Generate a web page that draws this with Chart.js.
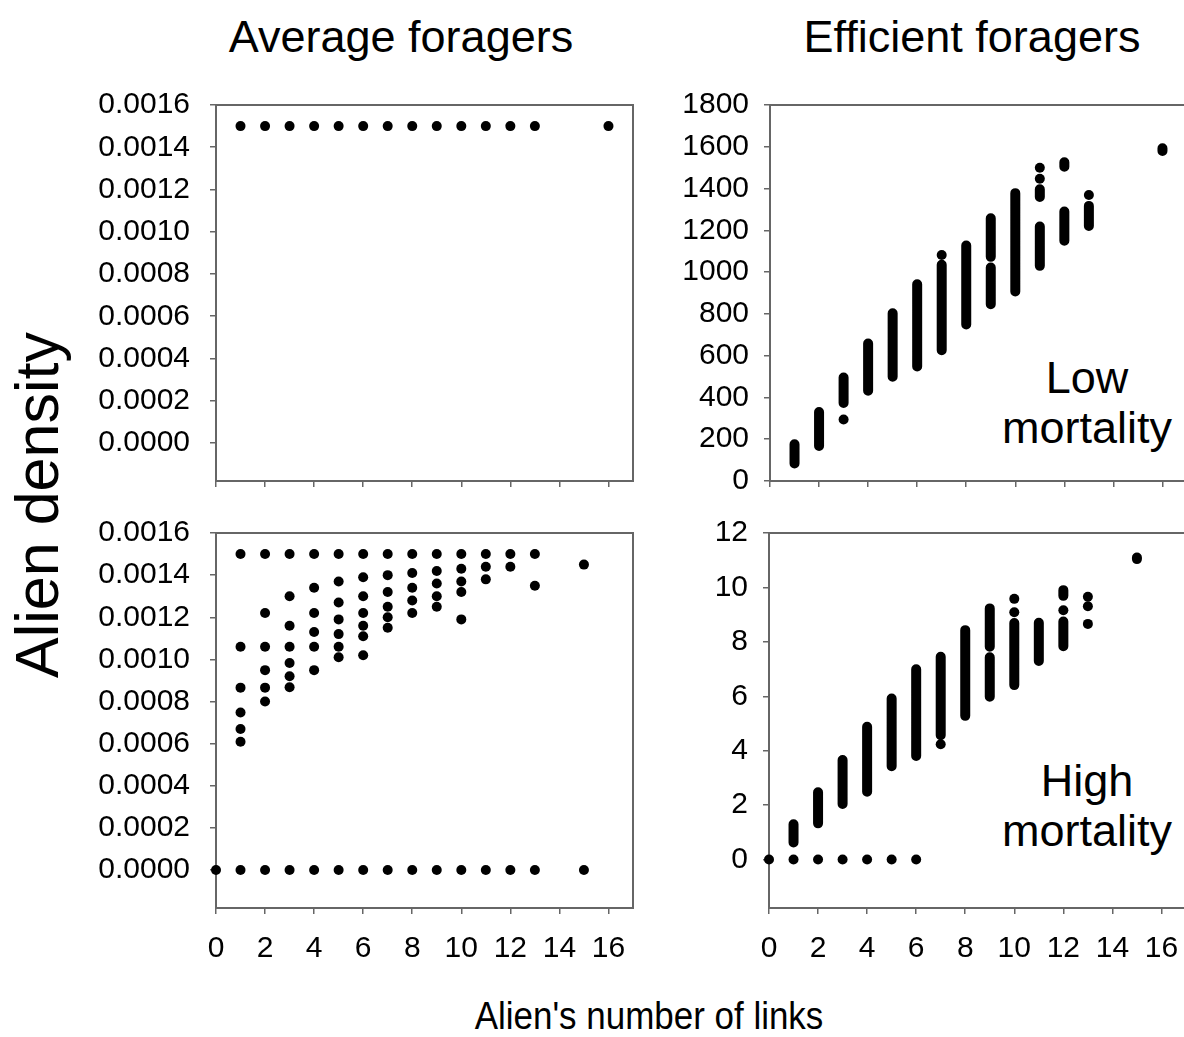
<!DOCTYPE html>
<html>
<head>
<meta charset="utf-8">
<script src="https://cdn.jsdelivr.net/npm/chart.js@4.4.1/dist/chart.umd.min.js"></script>
<style>
  html, body { margin: 0; padding: 0; background: #fff; overflow: hidden; width: 1184px; height: 1037px; }
  body { position: relative; font-family: "Liberation Sans", Arial, sans-serif; color: #000; }
  canvas { position: absolute; }
  .lbl { position: absolute; text-align: center; white-space: nowrap; }
</style>
</head>
<body>
<div class="lbl" style="left:101px; top:14px; width:600px; font-size:45px; line-height:45px;">Average foragers</div>
<div class="lbl" style="left:672px; top:14px; width:600px; font-size:45px; line-height:45px;">Efficient foragers</div>
<div class="lbl" style="left:-163px; top:475px; width:400px; height:60px; font-size:61px; line-height:60px; transform:rotate(-90deg);">Alien density</div>
<div class="lbl" style="left:349px; top:997px; width:600px; font-size:38px; line-height:38px; transform:scaleX(0.92);">Alien's number of links</div>
<div class="lbl" style="left:937px; top:353px; width:300px; font-size:45px; line-height:50px;">Low<br>mortality</div>
<div class="lbl" style="left:937px; top:756px; width:300px; font-size:45px; line-height:50px;">High<br>mortality</div>

<canvas id="avgLow"></canvas>
<canvas id="effLow"></canvas>
<canvas id="avgHigh"></canvas>
<canvas id="effHigh"></canvas>

<script>
// shared x axis: alien's number of links
const linkTicks = [0, 2, 4, 6, 8, 10, 12, 14, 16];

// tick labels
const avgTicks = [0, 0.0002, 0.0004, 0.0006, 0.0008, 0.0010, 0.0012, 0.0014, 0.0016];
const effLowTicks = [0, 200, 400, 600, 800, 1000, 1200, 1400, 1600, 1800];
const effHighTicks = [0, 2, 4, 6, 8, 10, 12];

// Average foragers, low mortality (all at the same density)
const avgLowX = [1, 2, 3, 4, 5, 6, 7, 8, 9, 10, 11, 12, 13, 16];
const avgLowY = [0.0015, 0.0015, 0.0015, 0.0015, 0.0015, 0.0015, 0.0015,
                 0.0015, 0.0015, 0.0015, 0.0015, 0.0015, 0.0015, 0.0015];

// Average foragers, high mortality
const avgHighX = [
  0,
  1, 1, 1, 1, 1, 1, 1,
  2, 2, 2, 2, 2, 2, 2,
  3, 3, 3, 3, 3, 3, 3, 3,
  4, 4, 4, 4, 4, 4, 4,
  5, 5, 5, 5, 5, 5, 5, 5,
  6, 6, 6, 6, 6, 6, 6, 6,
  7, 7, 7, 7, 7, 7, 7,
  8, 8, 8, 8, 8, 8,
  9, 9, 9, 9, 9, 9,
  10, 10, 10, 10, 10, 10,
  11, 11, 11, 11,
  12, 12, 12,
  13, 13, 13,
  15, 15
];
const avgHighY = [
  0,
  0.0015, 0.00106, 0.000866, 0.000748, 0.00067, 0.000609, 0,
  0.0015, 0.00122, 0.00106, 0.000949, 0.000866, 0.0008, 0,
  0.0015, 0.0013, 0.00116, 0.00106, 0.000983, 0.00092, 0.000868, 0,
  0.0015, 0.00134, 0.00122, 0.00113, 0.00106, 0.000949, 0,
  0.0015, 0.00137, 0.00127, 0.00119, 0.00112, 0.00106, 0.00101, 0,
  0.0015, 0.00139, 0.0013, 0.00122, 0.00116, 0.00111, 0.00102, 0,
  0.0015, 0.0014, 0.00132, 0.00125, 0.0012, 0.00115, 0,
  0.0015, 0.00141, 0.00134, 0.00128, 0.00122, 0,
  0.0015, 0.00142, 0.00136, 0.0013, 0.00125, 0,
  0.0015, 0.00143, 0.00137, 0.00132, 0.00119, 0,
  0.0015, 0.00144, 0.00138, 0,
  0.0015, 0.00144, 0,
  0.0015, 0.00135, 0,
  0.00145, 0
];

// Efficient foragers, low mortality: dense runs of points (low..high) plus lone points
const effLowRunX  = [1, 2, 3, 4, 5, 6, 7, 8, 9, 9, 10, 11, 11, 12, 12, 13, 16];
const effLowRunLo = [84, 168, 373, 432, 499, 548, 626, 749, 846, 1073, 907, 1030, 1360, 1150, 1504, 1221, 1580];
const effLowRunHi = [176, 330, 495, 658, 803, 942, 1035, 1127, 1022, 1258, 1378, 1218, 1397, 1290, 1526, 1317, 1593];
const effLowDotX = [3, 7, 11, 11, 13];
const effLowDotY = [294, 1082, 1447, 1500, 1369];

// Efficient foragers, high mortality
const effHighRunX  = [1, 2, 3, 4, 5, 6, 7, 8, 9, 9, 10, 11, 12, 12, 15];
const effHighRunLo = [0.63, 1.33, 2.04, 2.49, 3.43, 3.81, 4.57, 5.28, 5.98, 7.82, 6.41, 7.30, 7.84, 9.69, 11.04];
const effHighRunHi = [1.30, 2.47, 3.66, 4.88, 5.92, 6.99, 7.45, 8.43, 7.43, 9.23, 8.69, 8.70, 8.75, 9.90, 11.10];
const effHighDotX = [0, 1, 2, 3, 4, 5, 6, 7, 10, 10, 12, 13, 13, 13];
const effHighDotY = [0, 0, 0, 0, 0, 0, 0, 4.24, 9.58, 9.09, 9.16, 9.66, 9.31, 8.66];

const FONT = '"Liberation Sans", Arial, sans-serif';
const GREY = '#666';
const DOT_R = 5;

// full box around the plot area
const frame = {
  id: 'frame',
  beforeDatasetsDraw(chart) {
    const { ctx, chartArea: a } = chart;
    ctx.save();
    ctx.strokeStyle = GREY;
    ctx.lineWidth = 2;
    ctx.strokeRect(a.left, a.top, a.right - a.left, a.bottom - a.top);
    ctx.restore();
  }
};

function dots(xs, ys) {
  return {
    data: xs.map((x, i) => ({ x, y: ys[i] })),
    pointRadius: DOT_R, pointHoverRadius: DOT_R,
    pointBackgroundColor: '#000', pointBorderWidth: 0,
    clip: false
  };
}

function runs(xs, lo, hi) {
  const data = [];
  xs.forEach((x, i) => data.push({ x, y: lo[i] }, { x, y: hi[i] }, { x, y: null }));
  return {
    data, showLine: true, spanGaps: false,
    pointRadius: 0, pointHoverRadius: 0,
    borderColor: '#000', borderWidth: DOT_R * 2, borderCapStyle: 'round',
    clip: false
  };
}

// box = canvas placement, area = wanted plot rectangle (page pixels)
function panel(id, box, area, cfg) {
  const canvas = document.getElementById(id);
  canvas.width = box.w;
  canvas.height = box.h;
  canvas.style.left = box.x + 'px';
  canvas.style.top = box.y + 'px';

  const grid = { display: true, drawOnChartArea: false, drawTicks: true, tickLength: 6, color: GREY, lineWidth: 1.5 };

  new Chart(canvas, {
    type: 'scatter',
    data: { datasets: cfg.datasets },
    options: {
      responsive: false,
      animation: false,
      devicePixelRatio: 1,
      events: [],
      layout: { padding: { top: area.top - box.y, right: box.x + box.w - area.right, left: 0, bottom: 0 } },
      plugins: { legend: { display: false }, tooltip: { enabled: false } },
      scales: {
        x: {
          type: 'linear', min: 0, max: 17,
          afterBuildTicks: s => { s.ticks = linkTicks.map(v => ({ value: v })); },
          afterFit: s => { s.height = box.y + box.h - area.bottom; },
          grid, border: { display: false },
          ticks: { display: cfg.xLabels, padding: 17, color: '#000', font: { family: FONT, size: 30 } }
        },
        y: {
          type: 'linear', min: cfg.yMin, max: cfg.yMax,
          afterBuildTicks: s => { s.ticks = cfg.yTicks.map(v => ({ value: v })); },
          afterFit: s => { s.width = area.left - box.x; },
          grid, border: { display: false },
          ticks: {
            padding: cfg.yPad, color: '#000', font: { family: FONT, size: 30 },
            callback: cfg.fmt
          }
        }
      }
    },
    plugins: [frame]
  });
}

const fmtAvg = v => v.toFixed(4);
const fmtInt = v => String(v);

panel('avgLow', { x: 0, y: 60, w: 660, h: 461 }, { left: 216, top: 105, right: 633, bottom: 481 }, {
  datasets: [dots(avgLowX, avgLowY)],
  yMin: -0.00018, yMax: 0.0016, yTicks: avgTicks, fmt: fmtAvg, yPad: 20, xLabels: false
});

panel('avgHigh', { x: 0, y: 490, w: 660, h: 510 }, { left: 216, top: 533, right: 633, bottom: 908 }, {
  datasets: [dots(avgHighX, avgHighY)],
  yMin: -0.00018, yMax: 0.0016, yTicks: avgTicks, fmt: fmtAvg, yPad: 20, xLabels: true
});

panel('effLow', { x: 660, y: 60, w: 540, h: 461 }, { left: 770, top: 105, right: 1187, bottom: 481 }, {
  datasets: [runs(effLowRunX, effLowRunLo, effLowRunHi), dots(effLowDotX, effLowDotY)],
  yMin: 0, yMax: 1800, yTicks: effLowTicks, fmt: fmtInt, yPad: 15, xLabels: false
});

panel('effHigh', { x: 660, y: 490, w: 540, h: 510 }, { left: 769, top: 533, right: 1186, bottom: 908 }, {
  datasets: [runs(effHighRunX, effHighRunLo, effHighRunHi), dots(effHighDotX, effHighDotY)],
  yMin: -1.78, yMax: 12, yTicks: effHighTicks, fmt: fmtInt, yPad: 15, xLabels: true
});
</script>
</body>
</html>
